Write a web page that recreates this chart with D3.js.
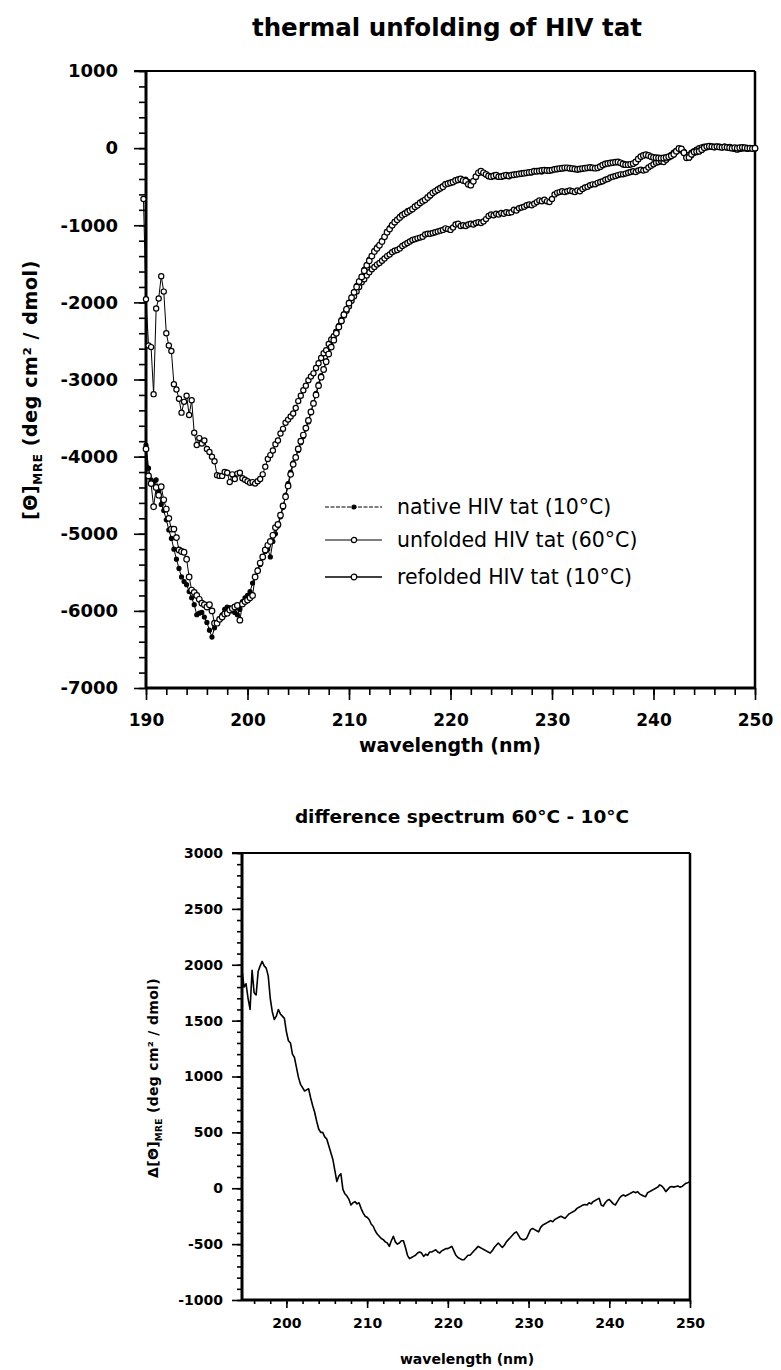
<!DOCTYPE html>
<html lang="en">
<head>
<meta charset="UTF-8">
<script src="https://d3js.org/d3.v7.min.js"></script>
<title>thermal unfolding of HIV tat</title>
<style>
  body { margin: 0; background: #fff; }
  svg { font-family: "DejaVu Sans", sans-serif; }
  .bold { font-weight: bold; }
</style>
</head>
<body>
<script>
// ---- data ----
// wavelength grid of the CD spectra, 0.25 nm steps from 189.75 to 250 nm
var wavelength = d3.range(759, 1001).map(function(i){ return i / 4; });

var unfolded = [
  -660,
  -1960,-2560,-2580,-3190, -2080,-1950,-1660,-1860, -2400,-2560,-2630,-3060, -3130,-3250,-3430,-3290, -3210,-3460,-3270,-3690,
  -3850,-3760,-3830,-3790, -3900,-3940,-4000,-4060, -4240,-4250,-4250,-4200, -4210,-4330,-4230,-4290, -4220,-4210,-4280,-4300,
  -4320,-4340,-4330,-4350, -4320,-4290,-4230,-4130, -4030,-3980,-3920,-3840, -3790,-3700,-3640,-3560, -3520,-3480,-3440,-3370,
  -3280,-3210,-3140,-3080, -3010,-2960,-2920,-2850, -2790,-2720,-2660,-2620, -2540,-2480,-2440,-2380, -2310,-2240,-2170,-2110,
  -2050,-1980,-1920,-1860, -1800,-1740,-1700,-1650, -1610,-1570,-1540,-1510, -1490,-1460,-1430,-1400, -1380,-1350,-1330,-1320,
  -1300,-1270,-1250,-1230, -1210,-1190,-1180,-1170, -1160,-1150,-1120,-1110, -1110,-1100,-1090,-1080, -1070,-1060,-1040,-1050,
  -1060,-1030,-990,-980, -1010,-1000,-1010,-990, -980,-990,-970,-960, -970,-950,-920,-880, -860,-870,-850,-860,
  -840,-850,-830,-840, -830,-800,-810,-780, -770,-760,-740,-730, -740,-720,-700,-680, -690,-670,-690,-700,
  -660,-600,-580,-570, -560,-570,-560,-550, -560,-570,-550,-560, -530,-510,-500,-480, -470,-470,-450,-440,
  -430,-410,-400,-380, -370,-360,-350,-340, -340,-330,-320,-310, -300,-310,-290,-280, -290,-280,-250,-230,
  -210,-190,-180,-170, -180,-150,-120,-90, -60,-40,-20,-30, -60,-110,-90,-60, -40,-20,0,10,
  20,10,20,20, 10,20,15,10, 20,10,15,0, -10,-20,-10,-5, 0,-10,0,0,
  -5
];

var native = [
  null,
  -3850,-4150,-4300,-4330, -4300,-4450,-4620,-4700, -4820,-4950,-5060,-5200, -5330,-5450,-5560,-5620, -5660,-5750,-5830,-5920,
  -6050,-6030,-6020,-6080, -6150,-6250,-6340,-6220, -6150,-6100,-6050,-5980, -5950,-5960,-6000,-6020, -6050,-5980,-5880,-5830,
  -5800,-5750,-5640,-5560, -5470,-5400,-5310,-5230, -5200,-5300,-5100,-5000, -4900,-4780,-4660,-4500, -4350,-4200,-4080,-4000,
  -3920,-3820,-3740,-3640, -3550,-3430,-3300,-3180, -3060,-2950,-2880,-2760, -2650,-2560,-2470,-2390, -2300,-2220,-2150,-2080,
  -2000,-1930,-1860,-1780, -1720,-1660,-1570,-1510, -1440,-1390,-1330,-1280, -1250,-1200,-1140,-1080, -1030,-990,-950,-920,
  -880,-860,-840,-810, -800,-790,-770,-730, -700,-680,-660,-640, -620,-590,-560,-530, -510,-490,-460,-450,
  -440,-430,-420,-400, -420,-410,-400,-430, -450,-420,-380,-330, -310,-320,-350,-370, -360,-350,-370,-380,
  -360,-350,-360,-370, -350,-340,-340,-330, -320,-330,-320,-310, -320,-300,-290,-300, -310,-290,-280,-290,
  -280,-270,-280,-270, -270,-265,-260,-270, -275,-280,-285,-280, -270,-265,-260,-265, -260,-255,-250,-230,
  -215,-200,-195,-190, -185,-180,-176,-200, -220,-225,-220,-215, -210,-190,-150,-120, -100,-90,-100,-115,
  -125,-130,-130,-135, -133,-125,-115,-111, -90,-50,-10,-5, -40,-100,-130,-100, -70,-60,-50,-30,
  0,15,20,15, 10,15,10,5, 10,5,0,-5, 0,-5,0,5, 0,-5,0,-5,
  0
];

var refolded = [
  null,
  -3900,-4250,-4350,-4650, -4400,-4500,-4390,-4560, -4680,-4800,-4940,-4940, -5050,-5210,-5230,-5240, -5330,-5560,-5730,-5760,
  -5800,-5850,-5900,-5920, -5950,-5920,-6000,-6160, -6160,-6110,-6080,-6040, -6030,-5990,-5970,-5950, -5930,-6120,-5910,-5880,
  -5860,-5830,-5800,-5560, -5480,-5380,-5300,-5210, -5150,-5100,-5020,-4920, -4880,-4760,-4640,-4520, -4380,-4230,-4100,-4010,
  -3900,-3800,-3720,-3630, -3530,-3420,-3310,-3200, -3080,-2970,-2870,-2770, -2670,-2580,-2490,-2400, -2320,-2240,-2160,-2090,
  -2010,-1940,-1870,-1800, -1730,-1670,-1590,-1520, -1460,-1400,-1340,-1300, -1260,-1210,-1150,-1090, -1050,-1000,-960,-930,
  -900,-870,-850,-830, -810,-790,-760,-740, -710,-690,-670,-640, -610,-580,-560,-540, -520,-500,-470,-460,
  -450,-440,-420,-410, -400,-420,-430,-470, -480,-430,-370,-320, -300,-320,-340,-360, -370,-360,-350,-370,
  -370,-360,-350,-360, -350,-345,-340,-335, -330,-325,-320,-315, -310,-300,-300,-295, -290,-285,-290,-290,
  -285,-275,-270,-265, -260,-255,-255,-260, -265,-270,-275,-270, -265,-260,-255,-250, -255,-260,-255,-240,
  -220,-205,-198,-192, -188,-182,-180,-190, -205,-215,-215,-210, -200,-180,-140,-110, -95,-85,-95,-110,
  -120,-125,-128,-130, -128,-120,-112,-100, -80,-40,-5,-10, -60,-125,-120,-80, -50,-45,-40,-20,
  5,20,25,20, 15,20,15,10, 15,10,5,0, 5,0,5,10, 5,0,0,-5,
  0
];

// difference spectrum 60°C - 10°C, 0.25 nm steps from 194.5 to 250 nm
var diffWavelength = d3.range(778, 1001).map(function(i){ return i / 4; });
var difference = [
  1950,1800,
  1830,1700,1600,1950, 1750,1730,1940,1990, 2030,1990,1970,1900, 1700,1580,1510,1540, 1600,1560,1540,1520,
  1400,1320,1300,1200, 1170,1080,990,930, 900,870,880,890, 810,740,680,600, 530,500,500,460,
  440,380,320,260, 160,60,110,130, -10,-50,-70,-100, -150,-130,-120,-140, -130,-180,-220,-250,
  -260,-280,-320,-340, -380,-410,-430,-450, -460,-480,-490,-520, -470,-430,-480,-500, -490,-470,-470,-530,
  -600,-630,-620,-610, -600,-580,-570,-580, -610,-590,-600,-570, -570,-560,-550,-570, -580,-560,-550,-540,
  -540,-530,-520,-560, -600,-620,-630,-640, -640,-620,-600,-600, -580,-560,-540,-520, -530,-540,-550,-560,
  -570,-580,-560,-530, -510,-490,-510,-530, -510,-480,-460,-440, -420,-400,-390,-420, -450,-460,-460,-450,
  -410,-370,-360,-370, -380,-390,-350,-330, -320,-310,-300,-290, -300,-280,-270,-260, -250,-260,-270,-250,
  -230,-220,-210,-200, -180,-170,-160,-150, -145,-150,-130,-140, -120,-110,-100,-90, -150,-160,-130,-110,
  -100,-120,-140,-150, -120,-90,-70,-60, -70,-60,-50,-40, -30,-40,-30,-50, -60,-70,-75,-40,
  -30,-20,-10,0, 10,30,20,0, -30,-10,10,15, 10,15,20,10, 15,30,45,50,
  60
];

var seriesNames = ["native HIV tat (10°C)", "unfolded HIV tat (60°C)", "refolded HIV tat (10°C)"];
var topXTicks = [190, 200, 210, 220, 230, 240, 250];
var topYTicks = [1000, 0, -1000, -2000, -3000, -4000, -5000, -6000, -7000];
var botXTicks = [200, 210, 220, 230, 240, 250];
var botYTicks = [3000, 2500, 2000, 1500, 1000, 500, 0, -500, -1000];

// ---- canvas ----
var svg = d3.select("body").append("svg").attr("width", 781).attr("height", 1370);

// plain hyphen minus, as in the original figure
var plain = function(d){ return String(d); };

// small helper: ticks without domain path
function ticks(g, axis) {
  g.call(axis).call(function(s){ s.select(".domain").remove(); });
  g.selectAll(".tick line").attr("stroke", "#000").attr("stroke-width", 1.6);
  return g;
}

// ===================== top chart =====================
var x1 = d3.scaleLinear().domain([190, 250]).range([146, 755]);
var y1 = d3.scaleLinear().domain([-7000, 1000]).range([688, 71]);

svg.append("text").attr("class", "bold").attr("x", 447).attr("y", 36)
   .attr("text-anchor", "middle").attr("font-size", 24.5).text("thermal unfolding of HIV tat");

// y axis ticks
ticks(svg.append("g").attr("transform", "translate(146,0)"),
      d3.axisLeft(y1).tickValues(d3.range(-7000, 1001, 200)).tickSize(7).tickFormat(""));
ticks(svg.append("g").attr("transform", "translate(146,0)").attr("class", "bold"),
      d3.axisLeft(y1).tickValues(topYTicks).tickSize(12).tickPadding(16).tickFormat(plain))
  .selectAll("text").attr("font-size", 18).attr("font-family", "DejaVu Sans").attr("fill", "#000");

// x axis ticks
ticks(svg.append("g").attr("transform", "translate(0,688)"),
      d3.axisBottom(x1).tickValues(d3.range(190, 251, 2)).tickSize(7).tickFormat(""));
ticks(svg.append("g").attr("transform", "translate(0,688)").attr("class", "bold"),
      d3.axisBottom(x1).tickValues(topXTicks).tickSize(12).tickPadding(14).tickFormat(plain))
  .selectAll("text").attr("font-size", 17).attr("font-family", "DejaVu Sans").attr("fill", "#000");

// frame
var frame1 = svg.append("g").attr("stroke", "#000");
frame1.append("line").attr("x1", 134).attr("x2", 755).attr("y1", 71).attr("y2", 71).attr("stroke-width", 2);
frame1.append("line").attr("x1", 755).attr("x2", 755).attr("y1", 71).attr("y2", 688).attr("stroke-width", 2.5);
frame1.append("line").attr("x1", 146).attr("x2", 146).attr("y1", 71).attr("y2", 688).attr("stroke-width", 3);
frame1.append("line").attr("x1", 146).attr("x2", 755).attr("y1", 688).attr("y2", 688).attr("stroke-width", 3);

// axis labels
svg.append("text").attr("class", "bold").attr("x", 450).attr("y", 752)
   .attr("text-anchor", "middle").attr("font-size", 19).text("wavelength (nm)");

var ylab1 = svg.append("text").attr("class", "bold").attr("font-size", 19)
   .attr("text-anchor", "middle").attr("letter-spacing", 0.6)
   .attr("transform", "translate(37,390) rotate(-90)");
ylab1.append("tspan").text("[Θ]");
ylab1.append("tspan").attr("font-size", 12).attr("dy", 5).text("MRE");
ylab1.append("tspan").attr("dy", -5).text(" (deg cm² / dmol)");

// series
var series = [
  { name: seriesNames[0], values: native,   r: 2.0, fill: "#000", dash: "4 1.5", lw: 1 },
  { name: seriesNames[1], values: unfolded, r: 2.6, fill: "#fff", dash: null,    lw: 1.2 },
  { name: seriesNames[2], values: refolded, r: 2.8, fill: "#fff", dash: null,    lw: 1.4 }
];

var line1 = d3.line()
  .x(function(d){ return x1(d[0]); })
  .y(function(d){ return y1(d[1]); });

// native first, open circles on top
series.forEach(function(s) {
  var pts = wavelength.map(function(w, i){ return [w, s.values[i]]; })
                      .filter(function(d){ return d[1] != null; });
  svg.append("path").datum(pts)
     .attr("fill", "none").attr("stroke", "#000").attr("stroke-width", 1)
     .attr("d", line1);
  svg.append("g").selectAll("circle").data(pts).enter().append("circle")
     .attr("cx", function(d){ return x1(d[0]); })
     .attr("cy", function(d){ return y1(d[1]); })
     .attr("r", s.r)
     .attr("fill", s.fill).attr("stroke", "#000").attr("stroke-width", 1.2);
});

// legend
var legendY = [507, 540, 577];
series.forEach(function(s, i) {
  var g = svg.append("g").attr("transform", "translate(0," + legendY[i] + ")");
  g.append("line").attr("x1", 325).attr("x2", 382).attr("y1", 0).attr("y2", 0)
   .attr("stroke", "#000").attr("stroke-width", s.lw).attr("stroke-dasharray", s.dash);
  g.append("circle").attr("cx", 354).attr("cy", 0).attr("r", s.r)
   .attr("fill", s.fill).attr("stroke", "#000").attr("stroke-width", 1.2);
  g.append("text").attr("x", 397).attr("y", 0).attr("dy", "0.36em")
   .attr("font-size", 20.5).text(s.name);
});

// ===================== bottom chart =====================
var x2 = d3.scaleLinear().domain([194.5, 250]).range([242, 690]);
var y2 = d3.scaleLinear().domain([-1000, 3000]).range([1300, 853]);

svg.append("text").attr("class", "bold").attr("x", 462).attr("y", 823)
   .attr("text-anchor", "middle").attr("font-size", 18.5).text("difference spectrum 60°C - 10°C");

ticks(svg.append("g").attr("transform", "translate(242,0)"),
      d3.axisLeft(y2).tickValues(d3.range(-1000, 3001, 100)).tickSize(5).tickFormat(""));
ticks(svg.append("g").attr("transform", "translate(242,0)").attr("class", "bold"),
      d3.axisLeft(y2).tickValues(botYTicks).tickSize(10).tickPadding(9).tickFormat(plain))
  .selectAll("text").attr("font-size", 14).attr("font-family", "DejaVu Sans").attr("fill", "#000");

ticks(svg.append("g").attr("transform", "translate(0,1300)"),
      d3.axisBottom(x2).tickValues(d3.range(196, 251, 2)).tickSize(4).tickFormat(""));
ticks(svg.append("g").attr("transform", "translate(0,1300)").attr("class", "bold"),
      d3.axisBottom(x2).tickValues(botXTicks).tickSize(8).tickPadding(10).tickFormat(plain))
  .selectAll("text").attr("font-size", 14).attr("font-family", "DejaVu Sans").attr("fill", "#000");

var frame2 = svg.append("g").attr("stroke", "#000");
frame2.append("line").attr("x1", 232).attr("x2", 690).attr("y1", 853).attr("y2", 853).attr("stroke-width", 2);
frame2.append("line").attr("x1", 690).attr("x2", 690).attr("y1", 853).attr("y2", 1300).attr("stroke-width", 2.5);
frame2.append("line").attr("x1", 242).attr("x2", 242).attr("y1", 853).attr("y2", 1300).attr("stroke-width", 3);
frame2.append("line").attr("x1", 242).attr("x2", 690).attr("y1", 1300).attr("y2", 1300).attr("stroke-width", 3);

svg.append("text").attr("class", "bold").attr("x", 467).attr("y", 1364)
   .attr("text-anchor", "middle").attr("font-size", 14).text("wavelength (nm)");

var ylab2 = svg.append("text").attr("class", "bold").attr("font-size", 14)
   .attr("text-anchor", "middle").attr("letter-spacing", 0.3)
   .attr("transform", "translate(158,1078) rotate(-90)");
ylab2.append("tspan").text("Δ[Θ]");
ylab2.append("tspan").attr("font-size", 9).attr("dy", 4).text("MRE");
ylab2.append("tspan").attr("dy", -4).text(" (deg cm² / dmol)");

var line2 = d3.line()
  .x(function(d){ return x2(d[0]); })
  .y(function(d){ return y2(d[1]); });

svg.append("path")
   .datum(diffWavelength.map(function(w, i){ return [w, difference[i]]; }))
   .attr("fill", "none").attr("stroke", "#000").attr("stroke-width", 1.6)
   .attr("stroke-linejoin", "round")
   .attr("d", line2);
</script>
</body>
</html>
